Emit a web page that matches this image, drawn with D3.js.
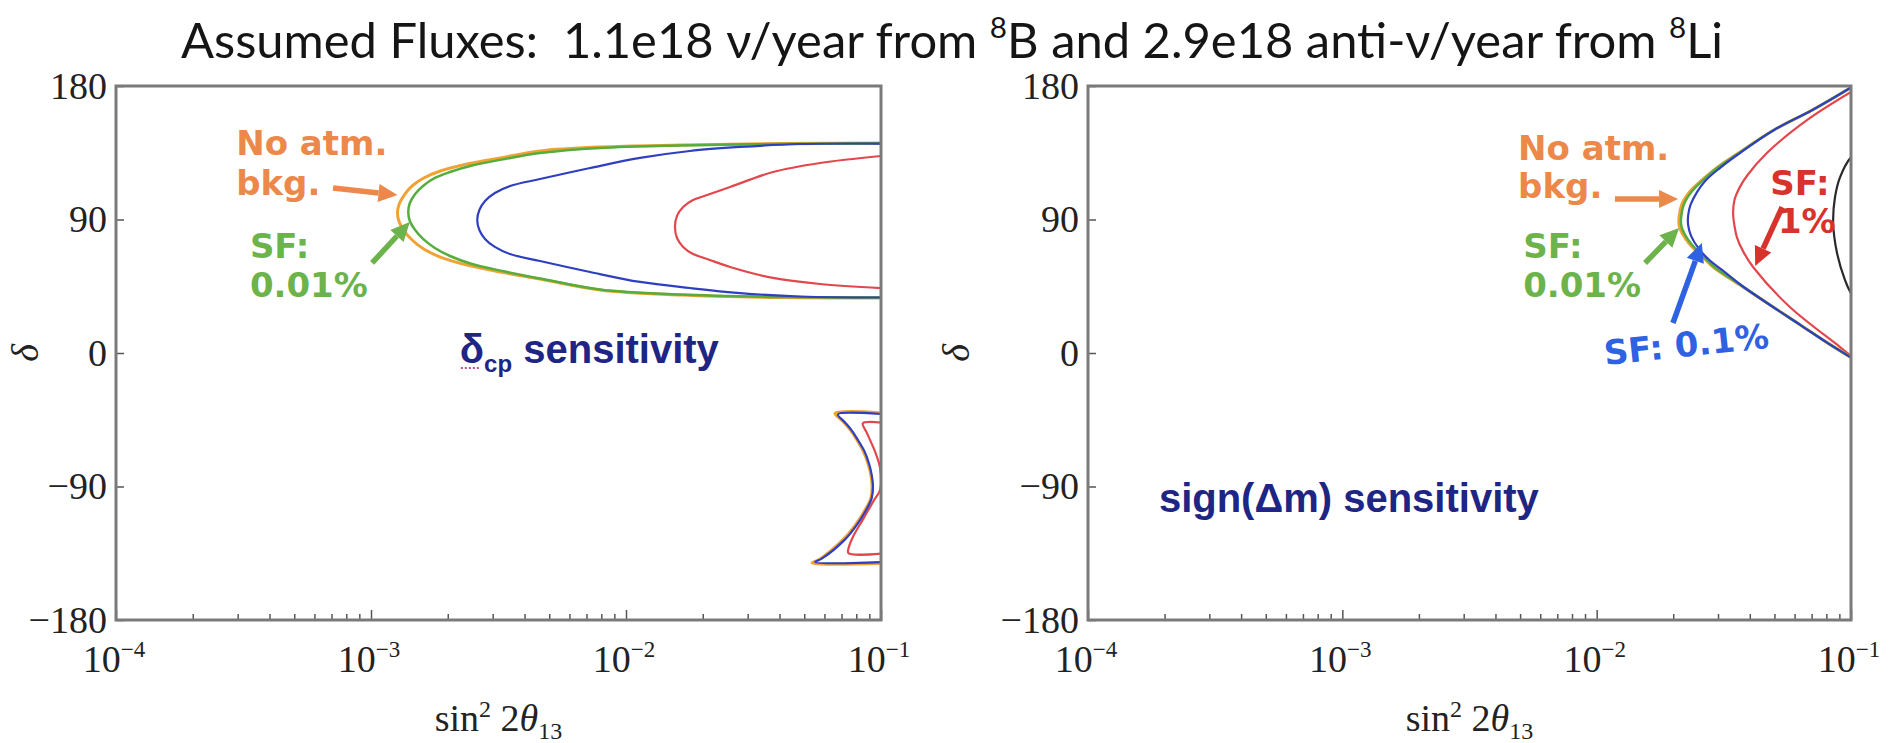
<!DOCTYPE html>
<html>
<head>
<meta charset="utf-8">
<script src="https://cdn.jsdelivr.net/npm/d3@7/dist/d3.min.js"></script>
<style>
  html, body { margin: 0; padding: 0; background: #fff; }
  svg { display: block; }
  text { white-space: pre; }
</style>
</head>
<body>
<svg id="chart" width="1892" height="743"></svg>
<script>
// ---- data (sin^2 2theta13, delta in degrees) ----

const xMajorTicks = [1e-4, 1e-3, 1e-2, 1e-1];
const xTickExponents = ["\u22124", "\u22123", "\u22122", "\u22121"];
const xMinorTicks = [2e-4, 3e-4, 4e-4, 5e-4, 6e-4, 7e-4, 8e-4, 9e-4,
                     2e-3, 3e-3, 4e-3, 5e-3, 6e-3, 7e-3, 8e-3, 9e-3,
                     2e-2, 3e-2, 4e-2, 5e-2, 6e-2, 7e-2, 8e-2, 9e-2];
const yTicks = [-180, -90, 0, 90, 180];

// left panel: delta_cp sensitivity
const leftNoAtm = [[0.1,141.6],[0.0402,141.2],[0.0163,140.2],[0.0079,138.9],[0.0046,136.2],[0.00321,131.5],
  [0.00238,127.4],[0.00187,122.7],[0.00161,118],[0.00145,112.6],[0.00135,106.5],[0.00129,100.5],[0.00127,94.4],
  [0.00129,88.3],[0.00135,82.2],[0.00145,76.2],[0.00161,70.1],[0.00187,64.7],[0.00238,59.3],[0.00321,54.6],
  [0.0046,49.9],[0.0079,42.5],[0.0163,39.1],[0.0402,37.4],[0.1,37.1]];
const leftSF001 = [[0.1,141.2],[0.0402,140.9],[0.0163,139.9],[0.0079,138.2],[0.0046,134.8],[0.00335,130.8],
  [0.00249,126.4],[0.00204,122],[0.00178,118],[0.0016,112.6],[0.00149,107.2],[0.00142,101.1],[0.0014,95.1],
  [0.00142,89],[0.00149,82.9],[0.0016,76.9],[0.00178,70.8],[0.00204,65.4],[0.00249,60],[0.00335,54.9],
  [0.0046,50.2],[0.0079,42.8],[0.0163,39.4],[0.0402,37.8],[0.1,37.4]];
const leftSF01 = [[0.1,141.2],[0.0481,140.9],[0.028,138.9],[0.0178,136.2],[0.01135,131.5],[0.00723,124.7],
  [0.0046,117.3],[0.00351,112.6],[0.00306,107.9],[0.0028,102.5],[0.00266,96.4],[0.00261,89.7],[0.00266,82.9],
  [0.0028,76.9],[0.00306,71.5],[0.00351,66.7],[0.0046,62],[0.00723,54.6],[0.01135,47.9],[0.0178,43.8],
  [0.028,40.4],[0.0481,38.1],[0.1,37.4]];
const leftSF1 = [[0.1,132.8],[0.0577,128.1],[0.0377,122],[0.0256,111.9],[0.0208,106.5],[0.01832,103.1],
  [0.01675,98.4],[0.01585,92.4],[0.01556,84.9],[0.01585,77.5],[0.01675,71.5],[0.01832,66.7],[0.0208,63.4],
  [0.0256,58],[0.0377,50.6],[0.0577,46.5],[0.1,43.8]];
const leftNoAtmLow = [[0.105,-40.7],[0.0661,-40.7],[0.0708,-46],[0.0759,-52],[0.0805,-58.7],[0.0851,-66],
  [0.0891,-75],[0.0912,-82],[0.0923,-90],[0.0912,-98],[0.0851,-108],[0.0785,-117],[0.0708,-126],
  [0.0575,-139],[0.0537,-141.6],[0.105,-141.6]];
const leftSF01Low = [[0.105,-41.4],[0.0678,-41.4],[0.072,-46.5],[0.077,-52.5],[0.0814,-59],[0.086,-66],
  [0.0899,-75],[0.0919,-82],[0.093,-90],[0.0919,-98],[0.086,-108],[0.0795,-117],[0.072,-126],
  [0.0588,-138.5],[0.0552,-140.9],[0.105,-140.9]];
const leftSF1Low = [[0.105,-47.4],[0.0849,-47.4],[0.0881,-54],[0.0955,-68],[0.0993,-78],[0.0993,-92],
  [0.0933,-100],[0.0851,-112],[0.0776,-124],[0.0748,-131],[0.0745,-134.9],[0.105,-134.9]];

// right panel: sign(dm) sensitivity
const rightNoAtm = [[0.1,179],[0.0708,164],[0.0494,150],[0.0355,134],[0.0297,125],[0.0257,116],[0.0233,109],
  [0.0216,100],[0.0211,92],[0.0211,86],[0.0218,80],[0.0233,73],[0.0257,66],[0.0287,58],[0.0372,45],
  [0.0494,31],[0.0631,19],[0.0805,7],[0.1,-3]];
const rightSF001 = [[0.1,179],[0.0708,164],[0.0494,150],[0.0357,134],[0.0299,125],[0.026,116],[0.0237,109],
  [0.022,100],[0.0215,92],[0.0215,86],[0.0222,80],[0.0237,73],[0.026,66],[0.029,58],[0.0374,45],
  [0.0494,31],[0.0631,19],[0.0805,7],[0.1,-3]];
const rightSF01 = [[0.1,179],[0.0708,164],[0.0494,150],[0.036,134],[0.0305,124.7],[0.0267,116],[0.0248,108.5],
  [0.0234,100],[0.0229,93],[0.0229,86],[0.0235,79],[0.0252,70.4],[0.0278,62.5],[0.0311,56],[0.0375,45],
  [0.0494,31],[0.0631,19],[0.0805,7],[0.1,-3]];
const rightSF1 = [[0.1,176],[0.0671,157],[0.0468,135],[0.0392,120],[0.0366,112],[0.0348,103],[0.0344,94],
  [0.0348,86],[0.0356,78],[0.0378,68],[0.0412,58],[0.0575,31],[0.0906,4],[0.1,-2]];
const rightSF10 = [[0.104,134],[0.1,132],[0.0906,118.6],[0.0865,105],[0.0851,87.6],[0.0881,67.4],
  [0.0948,49],[0.1,40.4],[0.104,37]];

// annotations: [sin^2, delta] anchor points
const leftLabels = [
  {text: "No atm.", at: [2.96e-4, 133.5], color: "orange"},
  {text: "bkg.", at: [2.96e-4, 106.5], color: "orange"},
  {text: "SF:", at: [3.35e-4, 64], color: "green"},
  {text: "0.01%", at: [3.35e-4, 37.8], color: "green"}
];
const leftArrows = [
  {from: [7.1e-4, 111.2], to: [1.27e-3, 106.5], color: "orange"},
  {from: [1.01e-3, 60.7], to: [1.42e-3, 88.3], color: "green"}
];
const rightLabels = [
  {text: "No atm.", at: [4.91e-3, 130.1], color: "orange"},
  {text: "bkg.", at: [4.91e-3, 104.5], color: "orange"},
  {text: "SF:", at: [5.14e-3, 64], color: "green"},
  {text: "0.01%", at: [5.14e-3, 37.8], color: "green"},
  {text: "SF: 0.1%", at: [0.0108, -8.1], color: "blue", rotate: -6},
  {text: "SF:", at: [0.0481, 106.5], color: "red"},
  {text: "1%", at: [0.0516, 80.9], color: "red"}
];
const rightArrows = [
  {from: [0.0118, 103.8], to: [0.0209, 103.8], color: "orange"},
  {from: [0.0155, 60.7], to: [0.0211, 84.3], color: "green"},
  {from: [0.01995, 20.2], to: [0.0259, 74.2], color: "blue"},
  {from: [0.0536, 98.4], to: [0.042, 58.7], color: "red"}
];

const curveColors = {orange: "#f0a234", green: "#55ad3e", blue: "#2e3fbf", red: "#e2474c", black: "#2a2a2a"};
const labelColors = {orange: "#ec884a", green: "#6bb34a", blue: "#2f62e3", red: "#d7322b"};

const svg = d3.select("#chart");
const serif = "'Liberation Serif', 'Times New Roman', serif";

// title, sized so that it spans the same width as the original
const title = svg.append("text")
  .attr("x", 952).attr("y", 58)
  .attr("text-anchor", "middle")
  .attr("font-family", "Lato, 'Open Sans', sans-serif")
  .attr("font-size", 56)
  .attr("fill", "#151515");
title.append("tspan").text("Assumed Fluxes:  1.1e18 \u03bd/year from ");
title.append("tspan").attr("class", "sup").attr("dy", -20).text("8");
title.append("tspan").attr("class", "base").attr("dy", 20).text("B and 2.9e18 anti-\u03bd/year from ");
title.append("tspan").attr("class", "sup").attr("dy", -20).text("8");
title.append("tspan").attr("class", "base").attr("dy", 20).text("Li");
title.selectAll(".sup").attr("font-size", 34);
const titleScale = 1543 / title.node().getComputedTextLength();
title.attr("font-size", 56 * titleScale);
title.selectAll(".sup").attr("font-size", 34 * titleScale);

function drawArrow(g, x1, y1, x2, y2, color) {
	const ang = Math.atan2(y2 - y1, x2 - x1);
	const headLen = 19, headW = 9;
	const bx = x2 - headLen * Math.cos(ang), by = y2 - headLen * Math.sin(ang);
	g.append("line")
	  .attr("x1", x1).attr("y1", y1).attr("x2", bx).attr("y2", by)
	  .attr("stroke", color).attr("stroke-width", 5.5);
	const px = -Math.sin(ang) * headW, py = Math.cos(ang) * headW;
	g.append("path")
	  .attr("d", `M${x2},${y2}L${bx + px},${by + py}L${bx - px},${by - py}Z`)
	  .attr("fill", color);
}

// draws one framed panel with its contours and notes
function drawPanel(box, curves, labels, arrows) {
	const x = d3.scaleLog().domain([1e-4, 1e-1]).range([box.left, box.right]);
	const y = d3.scaleLinear().domain([-180, 180]).range([box.bottom, box.top]);

	svg.append("clipPath").attr("id", "clip-" + box.id)
	  .append("rect")
	    .attr("x", box.left).attr("y", box.top)
	    .attr("width", box.right - box.left).attr("height", box.bottom - box.top);

	const line = d3.line()
	    .x(d => x(d[0]))
	    .y(d => y(d[1]))
	    .curve(d3.curveCatmullRom.alpha(0.5));

	const cg = svg.append("g").attr("clip-path", `url(#clip-${box.id})`);
	curves.forEach(c => {
		cg.append("path")
		  .attr("d", line(c.points))
		  .attr("fill", "none")
		  .attr("stroke", curveColors[c.color])
		  .attr("stroke-width", c.width)
		  .attr("stroke-linejoin", "round");
	});

	// minor and major ticks on the bottom, pointing inward
	svg.append("g")
	    .attr("transform", `translate(0,${box.bottom})`)
	    .call(d3.axisBottom(x).tickValues(xMinorTicks).tickSize(-6).tickFormat(""))
	    .call(a => a.select(".domain").remove())
	    .call(a => a.selectAll("line").attr("stroke", "#555").attr("stroke-width", 1.5));
	svg.append("g")
	    .attr("transform", `translate(0,${box.bottom})`)
	    .call(d3.axisBottom(x).tickValues(xMajorTicks).tickSize(-10).tickFormat(""))
	    .call(a => a.select(".domain").remove())
	    .call(a => a.selectAll("line").attr("stroke", "#555").attr("stroke-width", 1.5));

	const xl = svg.append("g").selectAll("text").data(xMajorTicks).enter()
	  .append("text")
	    .attr("x", d => x(d) - 2)
	    .attr("y", box.bottom + 52)
	    .attr("text-anchor", "middle")
	    .attr("font-family", serif)
	    .attr("font-size", 38)
	    .attr("fill", "#222");
	xl.append("tspan").text("10");
	xl.append("tspan").attr("dy", -15).attr("font-size", 23).text((d, i) => xTickExponents[i]);

	svg.append("g")
	    .attr("transform", `translate(${box.left},0)`)
	    .call(d3.axisLeft(y).tickValues(yTicks).tickSize(-8).tickPadding(9)
	        .tickFormat(d => d < 0 ? "\u2212" + Math.abs(d) : d))
	    .call(a => a.select(".domain").remove())
	    .call(a => a.selectAll("line").attr("stroke", "#555").attr("stroke-width", 1.5))
	    .call(a => a.selectAll("text")
	        .attr("font-family", serif).attr("font-size", 38).attr("fill", "#222"));

	// frame
	svg.append("rect")
	    .attr("x", box.left).attr("y", box.top)
	    .attr("width", box.right - box.left).attr("height", box.bottom - box.top)
	    .attr("fill", "none").attr("stroke", "#7a7a7a").attr("stroke-width", 3);

	// axis titles
	const xt = svg.append("text")
	    .attr("x", (box.left + box.right) / 2).attr("y", 731)
	    .attr("text-anchor", "middle")
	    .attr("font-family", serif).attr("font-size", 38).attr("fill", "#222");
	xt.append("tspan").text("sin");
	xt.append("tspan").attr("dy", -14).attr("font-size", 24).text("2");
	xt.append("tspan").attr("dy", 14).text(" 2");
	xt.append("tspan").attr("font-style", "italic").text("\u03b8");
	xt.append("tspan").attr("dy", 8).attr("font-size", 24).text("13");

	svg.append("text")
	    .attr("transform", `translate(${box.yLabelX},${y(0)}) rotate(-90)`)
	    .attr("text-anchor", "middle")
	    .attr("font-family", serif).attr("font-style", "italic")
	    .attr("font-size", 38).attr("fill", "#222")
	    .text("\u03b4");

	// notes
	const ng = svg.append("g");
	labels.forEach(l => {
		const px = x(l.at[0]), py = y(l.at[1]);
		const t = ng.append("text")
		    .attr("x", px).attr("y", py)
		    .attr("font-family", "'DejaVu Sans', Verdana, sans-serif")
		    .attr("font-weight", "bold")
		    .attr("font-size", 34)
		    .attr("fill", labelColors[l.color])
		    .text(l.text);
		if (l.rotate) t.attr("transform", `rotate(${l.rotate},${px},${py})`);
	});
	arrows.forEach(a => {
		drawArrow(ng, x(a.from[0]), y(a.from[1]), x(a.to[0]), y(a.to[1]), labelColors[a.color]);
	});

	return {x: x, y: y};
}

const left = drawPanel(
	{id: "l", left: 116, right: 881, top: 86, bottom: 620, yLabelX: 38},
	[
		{points: leftSF1, color: "red", width: 2.2},
		{points: leftSF1Low, color: "red", width: 2.2},
		{points: leftNoAtm, color: "orange", width: 3},
		{points: leftSF001, color: "green", width: 2.5},
		{points: leftSF01, color: "blue", width: 2.2},
		{points: leftNoAtmLow, color: "orange", width: 3},
		{points: leftSF01Low, color: "blue", width: 2.2}
	],
	leftLabels, leftArrows);

const right = drawPanel(
	{id: "r", left: 1088, right: 1851, top: 86, bottom: 620, yLabelX: 969},
	[
		{points: rightSF10, color: "black", width: 2.2},
		{points: rightSF1, color: "red", width: 2.2},
		{points: rightNoAtm, color: "orange", width: 3},
		{points: rightSF001, color: "green", width: 2.5},
		{points: rightSF01, color: "blue", width: 2.2}
	],
	rightLabels, rightArrows);

// panel headlines
const dcp = svg.append("text")
    .attr("x", left.x(2.23e-3)).attr("y", left.y(-6.7))
    .attr("font-family", "'Liberation Sans', Arial, sans-serif")
    .attr("font-weight", "bold").attr("font-size", 40).attr("fill", "#1f2585");
dcp.append("tspan").text("\u03b4");
dcp.append("tspan").attr("dy", 9).attr("font-size", 24).text("cp");
dcp.append("tspan").attr("dy", -9).text(" sensitivity");
svg.append("line")
    .attr("x1", left.x(2.23e-3) + 1).attr("x2", left.x(2.23e-3) + 20)
    .attr("y1", left.y(-6.7) + 5).attr("y2", left.y(-6.7) + 5)
    .attr("stroke", "#c0508a").attr("stroke-width", 2).attr("stroke-dasharray", "2,2");

svg.append("text")
    .attr("x", right.x(1.9e-4)).attr("y", right.y(-107.2))
    .attr("font-family", "'Liberation Sans', Arial, sans-serif")
    .attr("font-weight", "bold").attr("font-size", 40).attr("fill", "#1f2585")
    .text("sign(\u0394m) sensitivity");
</script>
</body>
</html>
